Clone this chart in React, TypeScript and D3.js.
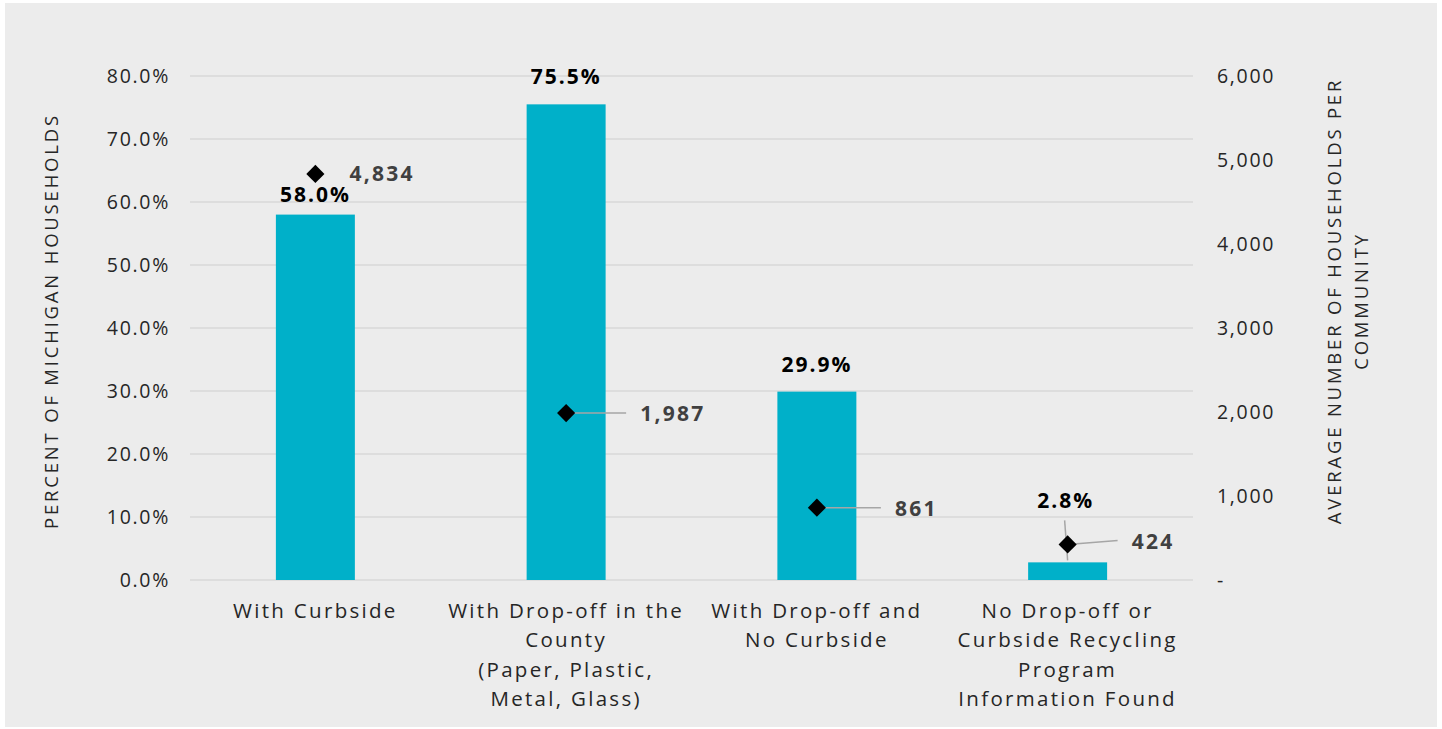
import React from "react";
import * as d3 from "d3";

const categories: string[][] = [
  ["With Curbside"],
  ["With Drop-off in the", "County", "(Paper, Plastic,", "Metal, Glass)"],
  ["With Drop-off and", "No Curbside"],
  ["No Drop-off or", "Curbside Recycling", "Program", "Information Found"],
];
const percentHouseholds = [58.0, 75.5, 29.9, 2.8];
const avgHouseholds = [4834, 1987, 861, 424];
const percentTicks = [0, 10, 20, 30, 40, 50, 60, 70, 80];
const countTicks = [0, 1000, 2000, 3000, 4000, 5000, 6000];

const W = 1442;
const H = 729;
const FONT = "'Open Sans', 'DejaVu Sans', sans-serif";

export default function App() {
  const left = 190;
  const right = 1193;
  const top = 76;
  const bottom = 580;

  const x = d3
    .scaleBand<number>()
    .domain(d3.range(categories.length))
    .range([left, right])
    .paddingInner(0.685)
    .paddingOuter(0.3425);
  const yPct = d3.scaleLinear().domain([0, 80]).range([bottom, top]);
  const yCnt = d3.scaleLinear().domain([0, 6000]).range([bottom, top]);

  const fmtPct = (v: number) => d3.format(".1f")(v) + "%";
  const fmtCnt = (v: number) => (v === 0 ? "-" : d3.format(",")(v));

  const cx = (i: number) => (x(i) as number) + x.bandwidth() / 2;

  // label offsets relative to each diamond, plus whether a leader line is drawn
  const cntLabelDx = [34, 74, 78, 64];
  const cntLabelDy = [0, 1, 1, -3];
  const cntLeader = [false, true, true, true];
  const pctLabelDy = [-20, -28, -27, -62];

  const diamond = d3.symbol().type(d3.symbolDiamond2).size(210)();

  return (
    <svg width={W} height={H} style={{ display: "block", position: "absolute", left: 0, top: 0 }}>
      <rect x={0} y={0} width={W} height={H} fill="#ffffff" />
      <rect x={5} y={3} width={1432} height={724} fill="#ececec" />

      {/* gridlines */}
      {percentTicks.map((t) => (
        <line key={t} x1={left} x2={right} y1={yPct(t)} y2={yPct(t)} stroke="#d9d9d9" strokeWidth={1.5} />
      ))}

      {/* left axis ticks */}
      {percentTicks.map((t) => (
        <text
          key={t}
          x={170}
          y={yPct(t)}
          dy="0.35em"
          textAnchor="end"
          fontFamily={FONT}
          fontSize={19.5}
          letterSpacing={1.7}
          fill="#262626"
        >
          {fmtPct(t)}
        </text>
      ))}

      {/* right axis ticks */}
      {countTicks.map((t) => (
        <text
          key={t}
          x={1217}
          y={yCnt(t)}
          dy="0.35em"
          textAnchor="start"
          fontFamily={FONT}
          fontSize={19.5}
          letterSpacing={1.7}
          fill="#262626"
        >
          {fmtCnt(t)}
        </text>
      ))}

      {/* axis titles */}
      <text
        transform={`translate(58,321) rotate(-90)`}
        textAnchor="middle"
        fontFamily={FONT}
        fontSize={18.5}
        letterSpacing={2.8}
        fill="#262626"
      >
        PERCENT OF MICHIGAN HOUSEHOLDS
      </text>
      <text
        transform={`translate(1341,301) rotate(-90)`}
        textAnchor="middle"
        fontFamily={FONT}
        fontSize={18.5}
        letterSpacing={2.8}
        fill="#262626"
      >
        <tspan x={0} dy={0}>AVERAGE NUMBER OF HOUSEHOLDS PER</tspan>
        <tspan x={0} dy={27}>COMMUNITY</tspan>
      </text>

      {/* bars */}
      {percentHouseholds.map((v, i) => (
        <rect
          key={i}
          x={x(i)}
          y={yPct(v)}
          width={x.bandwidth()}
          height={bottom - yPct(v)}
          fill="#00b0c9"
        />
      ))}

      {/* leader lines */}
      {avgHouseholds.map((v, i) =>
        cntLeader[i] ? (
          <polyline
            key={i}
            points={`${cx(i)},${yCnt(v)} ${cx(i) + cntLabelDx[i] - 14},${yCnt(v) + cntLabelDy[i] - 1}`}
            fill="none"
            stroke="#a6a6a6"
            strokeWidth={1.5}
          />
        ) : null
      )}
      <line
        x1={cx(3) - 3}
        y1={yPct(percentHouseholds[3]) + pctLabelDy[3] + 20}
        x2={cx(3)}
        y2={yPct(percentHouseholds[3]) - 2}
        stroke="#a6a6a6"
        strokeWidth={1.5}
      />

      {/* diamonds */}
      {avgHouseholds.map((v, i) => (
        <path key={i} d={diamond as string} transform={`translate(${cx(i)},${yCnt(v)})`} fill="#000000" />
      ))}

      {/* count labels */}
      {avgHouseholds.map((v, i) => (
        <text
          key={i}
          x={cx(i) + cntLabelDx[i]}
          y={yCnt(v) + cntLabelDy[i]}
          dy="0.35em"
          fontFamily={FONT}
          fontWeight={700}
          fontSize={21}
          letterSpacing={2.3}
          fill="#404040"
        >
          {fmtCnt(v)}
        </text>
      ))}

      {/* percent labels */}
      {percentHouseholds.map((v, i) => (
        <text
          key={i}
          x={cx(i) + (i === 3 ? -2 : 0)}
          y={yPct(v) + pctLabelDy[i]}
          dy="0.35em"
          textAnchor="middle"
          fontFamily={FONT}
          fontWeight={700}
          fontSize={21}
          letterSpacing={2.0}
          fill="#000000"
        >
          {fmtPct(v)}
        </text>
      ))}

      {/* category labels */}
      {categories.map((lines, i) => (
        <text
          key={i}
          x={cx(i)}
          y={618}
          textAnchor="middle"
          fontFamily={FONT}
          fontSize={20.5}
          letterSpacing={2.3}
          fill="#262626"
        >
          {lines.map((l, j) => (
            <tspan key={j} x={cx(i)} dy={j === 0 ? 0 : 29.3}>
              {l}
            </tspan>
          ))}
        </text>
      ))}
    </svg>
  );
}
